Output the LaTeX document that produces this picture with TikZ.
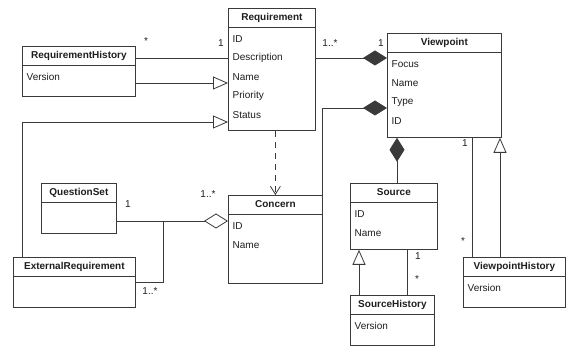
\documentclass[tikz,border=0pt]{standalone}
\usepackage{fontspec}
\setmainfont{Liberation Sans}
\usetikzlibrary{arrows.meta,calc}
\definecolor{ink}{HTML}{1E1E1E}
\definecolor{edge}{HTML}{3A3A3A}
\newcommand{\ten}{\fontsize{10}{12}\selectfont}
\tikzset{
 every node/.append style={font=\ten,text=ink},
 cls/.style={draw=edge,fill=white,line width=.8pt,anchor=north west,inner sep=0pt},
 head/.style={font=\ten\bfseries,inner sep=0pt},
 attr/.style={anchor=west,inner sep=0pt},
 cline/.style={draw=edge,line width=.8pt},
 mult/.style={inner sep=0pt},
 assoc/.style={draw=edge,line width=.8pt},
 inherit/.style={assoc,-{Triangle[open,length=15pt,width=13pt,fill=white]}},
 compose/.style={assoc,-{Diamond[length=24pt,width=15pt]}},
 aggregate/.style={assoc,-{Diamond[open,length=24pt,width=15pt,fill=white]}},
 depend/.style={assoc,dash pattern=on 6pt off 5pt,-{Straight Barb[length=8pt,width=10pt]}},
}
\newcommand{\umlclass}[6]{% name, x, y, width, height, title
 \node[cls,minimum width=#4pt,minimum height=#5pt] (#1) at (#2,#3) {};
 \node[head] (#1-title) at ([yshift=-9.5pt]#1.north) {#6};
 \draw[cline] ([yshift=-19pt]#1.north west) -- ([yshift=-19pt]#1.north east);
}
\newcommand{\umlattrs}[2]{% name, attributes
 \foreach \attrname [count=\i] in {#2}
  \node[attr] (#1-a\i) at ([xshift=4.5pt,yshift=-12pt-19pt*\i]#1.north west) {\attrname};
}

\begin{document}
\begin{tikzpicture}[x=1pt,y=-1pt]

\useasboundingbox (0,0) rectangle (566,347);
\umlclass{req}{228}{8}{87}{122}{Requirement}
\umlattrs{req}{ID,Description,Name,Priority,Status}
\umlclass{reqhist}{22}{46}{113}{50}{RequirementHistory}
\umlattrs{reqhist}{Version}
\umlclass{vp}{387}{33}{114}{104}{Viewpoint}
\umlattrs{vp}{Focus,Name,Type,ID}
\umlclass{concern}{228}{195}{94}{88}{Concern}
\umlattrs{concern}{ID,Name}
\umlclass{qset}{41}{183}{75}{50}{QuestionSet}
\umlclass{extreq}{13}{257}{122}{50}{ExternalRequirement}
\umlclass{src}{350}{183}{87}{66}{Source}
\umlattrs{src}{ID,Name}
\umlclass{srchist}{350}{295}{84}{50}{SourceHistory}
\umlattrs{srchist}{Version}
\umlclass{vphist}{463}{257}{102}{50}{ViewpointHistory}
\umlattrs{vphist}{Version}

% requirement side
\draw[assoc] (reqhist.east |- 0,58) -- (req.west |- 0,58);
\draw[inherit] (reqhist.east |- 0,83) -- (req.west |- 0,83);
\draw[inherit] (extreq.north -| 22,0) |- (req.west |- 0,122);
\draw[depend] (req.south -| concern.north) -- (concern.north);
\node[mult] (m-rh) at (146,41) {*};
\node[mult] (m-rq) at (221,43) {1};

% viewpoint compositions
\draw[compose] (req.east |- 0,58) -- (vp.west |- 0,58);
\draw[compose] (concern.north east) |- (vp.west |- 0,108);
\draw[compose] (src.north -| 397,0) -- (vp.south -| 397,0);
\node[mult] (m-rv) at (330,43) {1..*};
\node[mult] (m-vr) at (381,43) {1};

% question sets
\coordinate (join) at (163,221);
\draw[aggregate] (qset.east |- 0,221) -- (concern.west |- 0,221);
\draw[assoc] (extreq.east |- 0,282) -| (join);
\node[mult] (m-qs) at (128,204) {1};
\node[mult] (m-cq) at (208,194) {1..*};
\node[mult] (m-er) at (150,291) {1..*};

% histories
\draw[inherit] (srchist.north -| 359,0) -- (src.south -| 359,0);
\draw[assoc] (src.south -| 407,0) -- (srchist.north -| 407,0);
\node[mult] (m-sr) at (418,256) {1};
\node[mult] (m-sh) at (417,279) {*};
\draw[assoc] (vp.south -| 472,0) -- (vphist.north -| 472,0);
\draw[inherit] (vphist.north -| 500,0) -- (vp.south -| 500,0);
\node[mult] (m-vp) at (465,143) {1};
\node[mult] (m-vh) at (463,241) {*};

\end{tikzpicture}
\end{document}
